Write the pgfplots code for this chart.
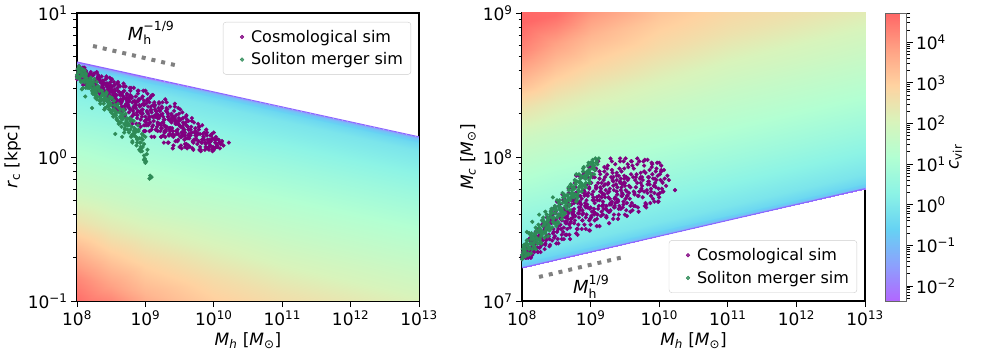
\documentclass[border=0pt]{standalone}
\usepackage{fontspec}
\setmainfont{DejaVu Sans}
\usepackage{pgfplots}
\pgfplotsset{compat=1.18}

\definecolor{mplpurple}{HTML}{800080}
\definecolor{seag}{HTML}{2E8B57}
\newcommand\tkfont{\fontsize{17}{20}\selectfont}
\newcommand\lgfont{\fontsize{16}{19}\selectfont}
% M_h with stacked sub- and superscript
\newcommand\Mh[1]{\textit{M}\raisebox{-4.5pt}{\fontsize{12.5}{12}\selectfont\shortstack[l]{#1\\h}}}

\pgfplotsset{
  colormap={rainbowa}{rgb=(0.7,0.4,1) rgb=(0.55,0.63,0.99) rgb=(0.4,0.824,0.954)
    rgb=(0.55,0.954,0.899) rgb=(0.7,1,0.824) rgb=(0.85,0.954,0.733)
    rgb=(1,0.824,0.63) rgb=(1,0.63,0.517) rgb=(1,0.4,0.4)},
  panel/.style={
    scale only axis, width=342pt, height=288pt,
    xmin=8, xmax=13, xtick={8,...,13},
    xticklabels={10\textsuperscript{8},10\textsuperscript{9},10\textsuperscript{10},
      10\textsuperscript{11},10\textsuperscript{12},10\textsuperscript{13}},
    tick align=outside, xtick pos=bottom, ytick pos=left,
    major tick length=6pt, minor tick length=3.5pt,
    every tick/.style={black, line width=0.9pt},
    axis line style={line width=1.1pt},
    tick label style={font=\tkfont}, label style={font=\tkfont},
    colormap name=rainbowa, point meta min=-2.37, point meta max=4.72,
    xlabel={\textit{M}\textsubscript{\textit{h}} [\textit{M}\textsubscript{⊙}]},
    legend cell align=left,
    legend image code/.code={\path[draw=none, fill=none] (0pt,-3pt) rectangle (20pt,3pt);
      \draw[##1] plot coordinates {(13pt,0pt)};},
    legend style={font=\lgfont, draw=black!20, rounded corners=3pt,
      fill=white, fill opacity=0.8, text opacity=1, row sep=5pt,
      inner xsep=6pt, inner ysep=6pt},
  },
  pts/.style={only marks, mark=*, mark size=1.9pt},
  dots/.style={forget plot, color=gray, line width=4pt, dash pattern=on 4pt off 6pt},
}

\begin{document}
\begin{tikzpicture}
\path[use as bounding box] (0pt,0pt) rectangle (981pt,353pt);

% left panel: core radius
\begin{axis}[panel, at={(77pt,52pt)}, anchor=south west,
  ymin=-1, ymax=1, ytick={-1,0,1},
  yticklabels={10\textsuperscript{−1},10\textsuperscript{0},10\textsuperscript{1}},
  minor ytick={-0.699,-0.523,-0.398,-0.301,-0.222,-0.155,-0.097,-0.046,
    0.301,0.477,0.602,0.699,0.778,0.845,0.903,0.954},
  ylabel={\textit{r}\textsubscript{c} [kpc]},
  legend style={at={(0.977,0.969)}, anchor=north east}]
\addplot[surf, shader=interp, mesh/cols=6, point meta=\thisrow{c}, forget plot] table {
x y c
8 0.66 -2.37
8.5 0.608 -2.37
9 0.556 -2.37
10 0.452 -2.37
11 0.348 -2.37
13 0.14 -2.37
8 0.656 -1.6
8.5 0.604 -1.6
9 0.552 -1.6
10 0.448 -1.6
11 0.344 -1.6
13 0.136 -1.6
8 0.645 -0.9
8.5 0.593 -0.9
9 0.541 -0.9
10 0.437 -0.9
11 0.333 -0.9
13 0.125 -0.9
8 0.62 -0.45
8.5 0.568 -0.45
9 0.516 -0.45
10 0.412 -0.45
11 0.308 -0.45
13 0.10 -0.45
8 0.56 -0.1
8.5 0.508 -0.1
9 0.456 -0.1
10 0.352 -0.1
11 0.248 -0.1
13 0.04 -0.1
8 0.46 0.15
8.5 0.408 0.15
9 0.356 0.15
10 0.252 0.15
11 0.148 0.15
13 -0.06 0.15
8 0.26 0.65
8.5 0.208 0.65
9 0.156 0.65
10 0.052 0.65
11 -0.052 0.65
13 -0.26 0.65
8 0.01 1.25
8.5 -0.042 1.2
9 -0.094 1.2
10 -0.198 1.2
11 -0.302 1.2
13 -0.51 1.2
8 -0.24 1.8
8.5 -0.292 1.75
9 -0.344 1.7
10 -0.448 1.7
11 -0.552 1.65
13 -0.76 1.65
8 -0.44 2.5
8.5 -0.492 2.35
9 -0.544 2.25
10 -0.648 2.15
11 -0.752 2.05
13 -0.96 2.0
8 -0.64 3.4
8.5 -0.692 3.1
9 -0.744 2.9
10 -0.848 2.7
11 -0.952 2.55
13 -1.16 2.45
8 -0.84 4.2
8.5 -0.892 3.8
9 -0.944 3.45
10 -1.048 3.1
11 -1.152 2.9
13 -1.36 2.8
8 -1.04 4.72
8.5 -1.092 4.6
9 -1.144 4.1
10 -1.248 3.5
11 -1.352 3.2
13 -1.56 3.05
8 -1.19 4.72
8.5 -1.242 4.72
9 -1.294 4.5
10 -1.398 3.9
11 -1.502 3.5
13 -1.71 3.35
};
\addplot[forget plot, color={rgb,1:red,0.55;green,0.4;blue,1}, line width=1pt] coordinates {(8,0.66) (13,0.14)};
\addplot[dots] coordinates {(8.234,0.771) (9.49,0.632)};
\addplot[pts, mplpurple] coordinates {
(8.00,0.54) (8.02,0.59) (8.00,0.56) (8.03,0.62) (8.01,0.55)
(8.03,0.63) (8.04,0.58) (8.01,0.61) (8.05,0.55) (8.03,0.62)
(8.05,0.56) (8.07,0.61) (8.04,0.54) (8.08,0.58) (8.06,0.53)
(8.08,0.59) (8.09,0.54) (8.06,0.61) (8.10,0.57) (8.08,0.62)
(8.10,0.62) (8.12,0.56) (8.09,0.50) (8.13,0.60) (8.11,0.53)
(8.13,0.50) (8.14,0.56) (8.11,0.62) (8.15,0.52) (8.13,0.59)
(8.15,0.55) (8.17,0.52) (8.14,0.58) (8.18,0.51) (8.16,0.57)
(8.18,0.55) (8.19,0.58) (8.16,0.52) (8.20,0.59) (8.18,0.53)
(8.20,0.58) (8.22,0.50) (8.19,0.55) (8.23,0.49) (8.21,0.56)
(8.23,0.49) (8.24,0.57) (8.21,0.52) (8.25,0.58) (8.23,0.51)
(8.25,0.52) (8.27,0.45) (8.24,0.57) (8.28,0.49) (8.26,0.54)
(8.28,0.52) (8.29,0.59) (8.26,0.47) (8.30,0.55) (8.28,0.50)
(8.30,0.47) (8.32,0.55) (8.29,0.45) (8.33,0.53) (8.31,0.57)
(8.33,0.54) (8.34,0.46) (8.31,0.56) (8.35,0.48) (8.33,0.44)
(8.35,0.45) (8.37,0.50) (8.34,0.42) (8.38,0.53) (8.36,0.47)
(8.38,0.53) (8.39,0.48) (8.36,0.56) (8.40,0.45) (8.38,0.51)
(8.40,0.39) (8.42,0.54) (8.39,0.44) (8.43,0.50) (8.41,0.40)
(8.43,0.56) (8.44,0.41) (8.41,0.51) (8.45,0.45) (8.43,0.55)
(8.45,0.51) (8.47,0.40) (8.44,0.49) (8.48,0.55) (8.46,0.44)
(8.48,0.41) (8.49,0.52) (8.46,0.43) (8.50,0.37) (8.48,0.48)
(8.50,0.46) (8.52,0.37) (8.49,0.49) (8.53,0.42) (8.51,0.54)
(8.53,0.43) (8.54,0.52) (8.51,0.40) (8.55,0.47) (8.53,0.35)
(8.55,0.50) (8.57,0.38) (8.54,0.45) (8.58,0.34) (8.56,0.43)
(8.58,0.36) (8.59,0.48) (8.56,0.41) (8.60,0.52) (8.58,0.43)
(8.60,0.34) (8.62,0.45) (8.59,0.51) (8.63,0.39) (8.61,0.50)
(8.63,0.49) (8.64,0.38) (8.61,0.32) (8.65,0.44) (8.63,0.33)
(8.65,0.31) (8.67,0.45) (8.64,0.37) (8.68,0.51) (8.66,0.39)
(8.68,0.49) (8.69,0.35) (8.66,0.43) (8.70,0.29) (8.68,0.41)
(8.70,0.33) (8.72,0.41) (8.69,0.28) (8.73,0.39) (8.71,0.36)
(8.73,0.44) (8.74,0.36) (8.71,0.49) (8.75,0.38) (8.73,0.43)
(8.75,0.41) (8.77,0.48) (8.74,0.35) (8.78,0.46) (8.76,0.31)
(8.78,0.33) (8.79,0.26) (8.76,0.39) (8.80,0.28) (8.78,0.43)
(8.80,0.41) (8.82,0.32) (8.79,0.48) (8.83,0.35) (8.81,0.23)
(8.83,0.30) (8.84,0.39) (8.81,0.25) (8.85,0.36) (8.83,0.48)
(8.85,0.38) (8.87,0.23) (8.84,0.35) (8.88,0.29) (8.86,0.42)
(8.88,0.31) (8.89,0.46) (8.86,0.34) (8.90,0.40) (8.88,0.27)
(8.90,0.46) (8.92,0.31) (8.89,0.44) (8.93,0.26) (8.91,0.36)
(8.93,0.21) (8.94,0.36) (8.91,0.23) (8.95,0.41) (8.93,0.31)
(8.95,0.28) (8.97,0.46) (8.94,0.31) (8.98,0.18) (8.96,0.42)
(8.98,0.36) (8.99,0.18) (8.96,0.33) (9.00,0.46) (8.98,0.22)
(9.00,0.18) (9.02,0.32) (8.99,0.25) (9.03,0.39) (9.01,0.22)
(9.03,0.44) (9.04,0.30) (9.01,0.37) (9.05,0.23) (9.03,0.40)
(9.05,0.27) (9.07,0.41) (9.04,0.22) (9.08,0.32) (9.06,0.18)
(9.08,0.33) (9.09,0.19) (9.06,0.38) (9.10,0.28) (9.08,0.42)
(9.10,0.43) (9.12,0.28) (9.09,0.14) (9.13,0.38) (9.11,0.22)
(9.13,0.14) (9.14,0.29) (9.11,0.43) (9.15,0.19) (9.13,0.35)
(9.15,0.28) (9.17,0.21) (9.14,0.36) (9.18,0.18) (9.16,0.32)
(9.18,0.27) (9.19,0.34) (9.16,0.19) (9.20,0.37) (9.18,0.23)
(9.20,0.38) (9.22,0.18) (9.19,0.29) (9.23,0.14) (9.21,0.32)
(9.23,0.14) (9.24,0.34) (9.21,0.23) (9.25,0.38) (9.23,0.20)
(9.25,0.24) (9.27,0.10) (9.24,0.35) (9.28,0.18) (9.26,0.28)
(9.28,0.26) (9.29,0.40) (9.26,0.15) (9.30,0.32) (9.28,0.22)
(9.30,0.18) (9.32,0.33) (9.29,0.14) (9.33,0.28) (9.31,0.38)
(9.33,0.30) (9.34,0.15) (9.31,0.34) (9.35,0.20) (9.33,0.10)
(9.35,0.15) (9.37,0.25) (9.34,0.10) (9.38,0.29) (9.36,0.18)
(9.38,0.30) (9.39,0.20) (9.36,0.35) (9.40,0.16) (9.38,0.27)
(9.40,0.06) (9.42,0.32) (9.39,0.15) (9.43,0.25) (9.41,0.08)
(9.43,0.37) (9.44,0.11) (9.41,0.28) (9.45,0.18) (9.43,0.35)
(9.45,0.29) (9.47,0.11) (9.44,0.25) (9.48,0.34) (9.46,0.18)
(9.48,0.12) (9.49,0.30) (9.46,0.16) (9.50,0.07) (9.48,0.23)
(9.50,0.22) (9.52,0.08) (9.49,0.25) (9.53,0.15) (9.51,0.33)
(9.53,0.17) (9.54,0.31) (9.51,0.14) (9.55,0.24) (9.53,0.06)
(9.55,0.27) (9.57,0.12) (9.54,0.21) (9.58,0.07) (9.56,0.19)
(9.58,0.09) (9.59,0.24) (9.56,0.15) (9.60,0.29) (9.58,0.17)
(9.60,0.09) (9.62,0.21) (9.59,0.28) (9.63,0.15) (9.61,0.26)
(9.63,0.25) (9.64,0.13) (9.61,0.06) (9.65,0.19) (9.63,0.08)
(9.65,0.07) (9.67,0.21) (9.64,0.13) (9.68,0.27) (9.66,0.15)
(9.68,0.25) (9.69,0.11) (9.66,0.19) (9.70,0.05) (9.68,0.17)
(9.70,0.10) (9.72,0.17) (9.69,0.06) (9.73,0.15) (9.71,0.12)
(9.73,0.20) (9.74,0.13) (9.71,0.24) (9.75,0.15) (9.73,0.18)
(9.75,0.17) (9.77,0.23) (9.74,0.12) (9.78,0.21) (9.76,0.09)
(9.78,0.11) (9.79,0.05) (9.76,0.16) (9.80,0.07) (9.78,0.19)
(9.80,0.16) (9.82,0.10) (9.79,0.21) (9.83,0.12) (9.81,0.04)
(9.83,0.10) (9.84,0.16) (9.81,0.05) (9.85,0.14) (9.83,0.22)
(9.85,0.14) (9.87,0.05) (9.84,0.12) (9.88,0.09) (9.86,0.17)
(9.88,0.10) (9.89,0.19) (9.86,0.12) (9.90,0.15) (9.88,0.07)
(9.90,0.17) (9.92,0.10) (9.89,0.16) (9.93,0.07) (9.91,0.12)
(9.93,0.05) (9.94,0.12) (9.91,0.06) (9.95,0.15) (9.93,0.10)
(9.95,0.08) (9.97,0.16) (9.94,0.10) (9.98,0.04) (9.96,0.15)
(9.98,0.13) (9.99,0.05) (9.96,0.11) (10.00,0.17) (9.98,0.06)
(10.00,0.05) (10.02,0.10) (9.99,0.07) (10.03,0.12) (10.01,0.06)
(10.03,0.14) (10.04,0.09) (10.01,0.12) (10.05,0.07) (10.03,0.13)
(10.05,0.08) (10.07,0.12) (10.04,0.07) (10.08,0.10) (10.09,0.06) (10.11,0.10)
(10.10,0.09) (10.12,0.11) (10.14,0.08) (10.22,0.10)
(8.31,0.49) (8.33,0.53) (8.30,0.48) (8.34,0.52) (8.32,0.54)
(8.36,0.47) (8.38,0.50) (8.35,0.46) (8.39,0.51) (8.37,0.48)
(8.41,0.43) (8.43,0.51) (8.40,0.46) (8.44,0.49) (8.42,0.44)
(8.46,0.49) (8.48,0.43) (8.45,0.47) (8.49,0.50) (8.47,0.45)
(8.51,0.45) (8.53,0.41) (8.50,0.47) (8.54,0.43) (8.52,0.49)
(8.56,0.46) (8.58,0.40) (8.55,0.44) (8.59,0.38) (8.57,0.43)
(8.61,0.38) (8.63,0.43) (8.60,0.46) (8.64,0.40) (8.62,0.45)
(8.66,0.35) (8.68,0.42) (8.65,0.38) (8.69,0.46) (8.67,0.40)
(8.71,0.36) (8.73,0.40) (8.70,0.33) (8.74,0.39) (8.72,0.37)
(8.76,0.39) (8.78,0.42) (8.75,0.36) (8.79,0.41) (8.77,0.34)
(8.81,0.38) (8.83,0.34) (8.80,0.42) (8.84,0.35) (8.82,0.29)
(8.86,0.36) (8.88,0.29) (8.85,0.35) (8.89,0.32) (8.87,0.38)
(8.91,0.40) (8.93,0.32) (8.90,0.39) (8.94,0.30) (8.92,0.35)
(8.96,0.30) (8.98,0.39) (8.95,0.31) (8.99,0.25) (8.97,0.37)
(9.01,0.24) (9.03,0.31) (9.00,0.28) (9.04,0.35) (9.02,0.26)
(9.06,0.28) (9.08,0.35) (9.05,0.26) (9.09,0.31) (9.07,0.24)
(9.11,0.36) (9.13,0.28) (9.10,0.21) (9.14,0.33) (9.12,0.25)
(9.16,0.28) (9.18,0.24) (9.15,0.32) (9.19,0.23) (9.17,0.30)
(9.21,0.32) (9.23,0.22) (9.20,0.27) (9.24,0.20) (9.22,0.29)
(9.26,0.24) (9.28,0.17) (9.25,0.30) (9.29,0.21) (9.27,0.26)
(9.31,0.21) (9.33,0.28) (9.30,0.19) (9.34,0.26) (9.32,0.31)
(9.36,0.19) (9.38,0.24) (9.35,0.16) (9.39,0.26) (9.37,0.20)
(9.41,0.14) (9.43,0.27) (9.40,0.18) (9.44,0.23) (9.42,0.15)
(9.46,0.25) (9.48,0.16) (9.45,0.23) (9.49,0.27) (9.47,0.19)
(9.51,0.21) (9.53,0.14) (9.50,0.22) (9.54,0.17) (9.52,0.26)
(9.56,0.23) (9.58,0.15) (9.55,0.20) (9.59,0.13) (9.57,0.19)
(9.61,0.13) (9.63,0.19) (9.60,0.22) (9.64,0.16) (9.62,0.21)
};
\addlegendentry{Cosmological sim}
\addplot[pts, seag] coordinates {
(8.00,0.55) (8.02,0.59) (8.00,0.57) (8.03,0.62) (8.01,0.56)
(8.03,0.63) (8.04,0.59) (8.01,0.61) (8.05,0.56) (8.03,0.62)
(8.05,0.56) (8.07,0.61) (8.04,0.54) (8.08,0.57) (8.06,0.52)
(8.08,0.58) (8.09,0.53) (8.06,0.59) (8.10,0.56) (8.08,0.61)
(8.10,0.60) (8.12,0.54) (8.09,0.48) (8.13,0.58) (8.11,0.52)
(8.13,0.48) (8.14,0.54) (8.11,0.60) (8.15,0.50) (8.13,0.57)
(8.15,0.52) (8.17,0.49) (8.14,0.55) (8.18,0.48) (8.16,0.53)
(8.18,0.51) (8.19,0.54) (8.16,0.48) (8.20,0.55) (8.18,0.50)
(8.20,0.53) (8.22,0.46) (8.19,0.50) (8.23,0.44) (8.21,0.51)
(8.23,0.45) (8.24,0.52) (8.21,0.48) (8.25,0.54) (8.23,0.47)
(8.25,0.46) (8.27,0.41) (8.24,0.50) (8.28,0.44) (8.26,0.48)
(8.28,0.47) (8.29,0.52) (8.26,0.43) (8.30,0.49) (8.28,0.45)
(8.30,0.42) (8.32,0.47) (8.29,0.40) (8.33,0.46) (8.31,0.49)
(8.33,0.46) (8.34,0.41) (8.31,0.48) (8.35,0.42) (8.33,0.39)
(8.35,0.39) (8.37,0.43) (8.34,0.37) (8.38,0.44) (8.36,0.40)
(8.38,0.44) (8.39,0.40) (8.36,0.46) (8.40,0.39) (8.38,0.43)
(8.40,0.33) (8.42,0.43) (8.39,0.37) (8.43,0.40) (8.41,0.34)
(8.43,0.45) (8.44,0.35) (8.41,0.41) (8.45,0.38) (8.43,0.44)
(8.45,0.40) (8.47,0.33) (8.44,0.39) (8.48,0.42) (8.46,0.36)
(8.48,0.33) (8.49,0.41) (8.46,0.35) (8.50,0.31) (8.48,0.38)
(8.50,0.36) (8.52,0.30) (8.49,0.37) (8.53,0.33) (8.51,0.41)
(8.53,0.33) (8.54,0.39) (8.51,0.32) (8.55,0.36) (8.53,0.28)
(8.55,0.36) (8.57,0.29) (8.54,0.33) (8.58,0.26) (8.56,0.32)
(8.58,0.27) (8.59,0.35) (8.56,0.30) (8.60,0.37) (8.58,0.31)
(8.60,0.25) (8.62,0.31) (8.59,0.35) (8.63,0.28) (8.61,0.34)
(8.63,0.33) (8.64,0.27) (8.61,0.23) (8.65,0.30) (8.63,0.24)
(8.65,0.21) (8.67,0.29) (8.64,0.24) (8.68,0.33) (8.66,0.26)
(8.68,0.32) (8.69,0.23) (8.66,0.28) (8.70,0.19) (8.68,0.27)
(8.70,0.20) (8.72,0.25) (8.69,0.17) (8.73,0.24) (8.71,0.22)
(8.73,0.27) (8.74,0.22) (8.71,0.30) (8.75,0.23) (8.73,0.26)
(8.75,0.23) (8.77,0.27) (8.74,0.19) (8.78,0.26) (8.76,0.17)
(8.78,0.19) (8.79,0.14) (8.76,0.22) (8.80,0.15) (8.78,0.25)
(8.80,0.21) (8.82,0.16) (8.79,0.26) (8.83,0.18) (8.81,0.11)
(8.83,0.15) (8.84,0.20) (8.81,0.10) (8.85,0.18) (8.83,0.25)
(8.85,0.17) (8.87,0.08) (8.84,0.15) (8.88,0.12) (8.86,0.19)
(8.88,0.13) (8.89,0.22) (8.86,0.14) (8.90,0.18) (8.88,0.10)
(8.90,0.19) (8.92,0.10) (8.89,0.18) (8.93,0.07) (8.91,0.13)
(8.93,0.04) (8.94,0.13) (8.91,0.05) (8.95,0.16) (8.93,0.10)
(8.95,0.04) (8.97,0.15) (8.94,0.06) (8.98,-0.02) (8.96,0.12)
(8.98,0.09) (8.99,-0.02) (8.96,0.07) (9.00,0.14) (8.98,0.01)
(9.00,-0.04) (9.02,0.02) (8.99,-0.01) (9.03,0.05) (9.01,-0.03)
(9.07,-0.13) (9.06,-0.15) (9.09,-0.14) (8.07,0.47) (8.22,0.34)
(8.56,0.16) (8.66,0.14) (8.12,0.42)
};
\addlegendentry{Soliton merger sim}
\node[font=\fontsize{18}{21}\selectfont] at (axis cs:9.08,0.86) {\Mh{−1/9}};
\end{axis}

% right panel: core mass
\begin{axis}[panel, at={(522pt,52pt)}, anchor=south west, width=343pt,
  ymin=7, ymax=9, ytick={7,8,9},
  yticklabels={10\textsuperscript{7},10\textsuperscript{8},10\textsuperscript{9}},
  minor ytick={7.301,7.477,7.602,7.699,7.778,7.845,7.903,7.954,
    8.301,8.477,8.602,8.699,8.778,8.845,8.903,8.954},
  ylabel={\textit{M}\textsubscript{\textit{c}} [\textit{M}\textsubscript{⊙}]},
  legend style={at={(0.977,0.028)}, anchor=south east},
  colorbar,
  colorbar style={at={(parent axis.north east)}, anchor=north west, xshift=12pt,
    scale only axis, width=21pt, height=288pt,
    ytick={-2,...,4},
    yticklabels={10\textsuperscript{−2},10\textsuperscript{−1},10\textsuperscript{0},
      10\textsuperscript{1},10\textsuperscript{2},10\textsuperscript{3},10\textsuperscript{4}},
    minor ytick={-2.301,-2.222,-2.155,-2.097,-2.046,
      -1.699,-1.523,-1.398,-1.301,-1.222,-1.155,-1.097,-1.046,
      -0.699,-0.523,-0.398,-0.301,-0.222,-0.155,-0.097,-0.046,
      0.301,0.477,0.602,0.699,0.778,0.845,0.903,0.954,
      1.301,1.477,1.602,1.699,1.778,1.845,1.903,1.954,
      2.301,2.477,2.602,2.699,2.778,2.845,2.903,2.954,
      3.301,3.477,3.602,3.699,3.778,3.845,3.903,3.954,
      4.301,4.477,4.602,4.699},
    tick align=outside, ytick pos=right, yticklabel pos=right,
    major tick length=6pt, minor tick length=3.5pt,
    every tick/.style={black, line width=0.9pt},
    axis line style={black!60, line width=0.8pt},
    tick label style={font=\tkfont},
    ylabel={\textit{c}\textsubscript{vir}},
    ylabel style={font=\tkfont, at={(axis description cs:3.33,0.5)}, anchor=center}}]
\addplot[surf, shader=interp, mesh/cols=6, point meta=\thisrow{c}, forget plot] table {
x y c
8 7.23 -2.37
8.5 7.285 -2.37
9 7.34 -2.37
10 7.45 -2.37
11 7.56 -2.37
13 7.78 -2.37
8 7.234 -1.6
8.5 7.289 -1.6
9 7.344 -1.6
10 7.454 -1.6
11 7.564 -1.6
13 7.784 -1.6
8 7.245 -0.9
8.5 7.300 -0.9
9 7.355 -0.9
10 7.465 -0.9
11 7.575 -0.9
13 7.795 -0.9
8 7.27 -0.45
8.5 7.325 -0.45
9 7.38 -0.45
10 7.49 -0.45
11 7.60 -0.45
13 7.82 -0.45
8 7.33 -0.1
8.5 7.385 -0.1
9 7.44 -0.1
10 7.55 -0.1
11 7.66 -0.1
13 7.88 -0.1
8 7.43 0.15
8.5 7.485 0.15
9 7.54 0.15
10 7.65 0.15
11 7.76 0.15
13 7.98 0.15
8 7.63 0.65
8.5 7.685 0.65
9 7.74 0.65
10 7.85 0.65
11 7.96 0.65
13 8.18 0.65
8 7.88 1.25
8.5 7.935 1.2
9 7.99 1.2
10 8.10 1.2
11 8.21 1.2
13 8.43 1.2
8 8.13 1.8
8.5 8.185 1.75
9 8.24 1.7
10 8.35 1.7
11 8.46 1.65
13 8.68 1.65
8 8.33 2.5
8.5 8.385 2.35
9 8.44 2.25
10 8.55 2.15
11 8.66 2.05
13 8.88 2.0
8 8.53 3.4
8.5 8.585 3.1
9 8.64 2.9
10 8.75 2.7
11 8.86 2.55
13 9.08 2.45
8 8.73 4.2
8.5 8.785 3.8
9 8.84 3.45
10 8.95 3.1
11 9.06 2.9
13 9.28 2.8
8 8.93 4.72
8.5 8.985 4.6
9 9.04 4.1
10 9.15 3.5
11 9.26 3.2
13 9.48 3.05
8 9.08 4.72
8.5 9.135 4.72
9 9.19 4.5
10 9.30 3.9
11 9.41 3.5
13 9.63 3.35
};
\addplot[forget plot, color={rgb,1:red,0.55;green,0.4;blue,1}, line width=1pt] coordinates {(8,7.23) (13,7.78)};
\addplot[dots] coordinates {(8.248,7.167) (9.487,7.306)};
\addplot[pts, mplpurple] coordinates {
(8.00,7.29) (8.02,7.33) (8.00,7.31) (8.03,7.35) (8.01,7.30)
(8.03,7.36) (8.04,7.32) (8.01,7.34) (8.05,7.30) (8.03,7.35)
(8.05,7.34) (8.07,7.39) (8.04,7.32) (8.08,7.36) (8.06,7.30)
(8.08,7.36) (8.09,7.31) (8.06,7.38) (8.10,7.34) (8.08,7.39)
(8.10,7.43) (8.12,7.36) (8.09,7.30) (8.13,7.41) (8.11,7.34)
(8.13,7.30) (8.14,7.37) (8.11,7.43) (8.15,7.32) (8.13,7.40)
(8.15,7.39) (8.17,7.36) (8.14,7.43) (8.18,7.34) (8.16,7.41)
(8.18,7.39) (8.19,7.42) (8.16,7.35) (8.20,7.44) (8.18,7.37)
(8.20,7.48) (8.22,7.37) (8.19,7.42) (8.23,7.34) (8.21,7.45)
(8.23,7.34) (8.24,7.45) (8.21,7.40) (8.25,7.48) (8.23,7.37)
(8.25,7.43) (8.27,7.34) (8.24,7.50) (8.28,7.39) (8.26,7.46)
(8.28,7.44) (8.29,7.53) (8.26,7.37) (8.30,7.48) (8.28,7.41)
(8.30,7.42) (8.32,7.52) (8.29,7.39) (8.33,7.49) (8.31,7.55)
(8.33,7.50) (8.34,7.40) (8.31,7.53) (8.35,7.43) (8.33,7.36)
(8.35,7.42) (8.37,7.50) (8.34,7.39) (8.38,7.53) (8.36,7.45)
(8.38,7.54) (8.39,7.46) (8.36,7.58) (8.40,7.43) (8.38,7.52)
(8.40,7.38) (8.42,7.59) (8.39,7.45) (8.43,7.54) (8.41,7.39)
(8.43,7.63) (8.44,7.42) (8.41,7.56) (8.45,7.47) (8.43,7.62)
(8.45,7.60) (8.47,7.44) (8.44,7.57) (8.48,7.65) (8.46,7.50)
(8.48,7.45) (8.49,7.62) (8.46,7.48) (8.50,7.40) (8.48,7.55)
(8.50,7.57) (8.52,7.43) (8.49,7.61) (8.53,7.50) (8.51,7.69)
(8.53,7.52) (8.54,7.66) (8.51,7.48) (8.55,7.59) (8.53,7.40)
(8.55,7.67) (8.57,7.50) (8.54,7.60) (8.58,7.43) (8.56,7.57)
(8.58,7.46) (8.59,7.63) (8.56,7.53) (8.60,7.70) (8.58,7.56)
(8.60,7.48) (8.62,7.63) (8.59,7.74) (8.63,7.55) (8.61,7.71)
(8.63,7.69) (8.64,7.54) (8.61,7.43) (8.65,7.62) (8.63,7.46)
(8.65,7.46) (8.67,7.68) (8.64,7.55) (8.68,7.78) (8.66,7.59)
(8.68,7.75) (8.69,7.53) (8.66,7.66) (8.70,7.43) (8.68,7.62)
(8.70,7.54) (8.72,7.67) (8.69,7.46) (8.73,7.63) (8.71,7.57)
(8.73,7.71) (8.74,7.58) (8.71,7.79) (8.75,7.62) (8.73,7.70)
(8.75,7.70) (8.77,7.82) (8.74,7.61) (8.78,7.79) (8.76,7.54)
(8.78,7.59) (8.79,7.47) (8.76,7.68) (8.80,7.50) (8.78,7.75)
(8.80,7.75) (8.82,7.61) (8.79,7.87) (8.83,7.65) (8.81,7.46)
(8.83,7.58) (8.84,7.73) (8.81,7.50) (8.85,7.68) (8.83,7.87)
(8.85,7.73) (8.87,7.50) (8.84,7.69) (8.88,7.60) (8.86,7.80)
(8.88,7.63) (8.89,7.87) (8.86,7.67) (8.90,7.77) (8.88,7.56)
(8.90,7.89) (8.92,7.66) (8.89,7.86) (8.93,7.58) (8.91,7.73)
(8.93,7.50) (8.94,7.74) (8.91,7.53) (8.95,7.81) (8.93,7.66)
(8.95,7.65) (8.97,7.93) (8.94,7.70) (8.98,7.49) (8.96,7.86)
(8.98,7.78) (8.99,7.49) (8.96,7.73) (9.00,7.93) (8.98,7.56)
(9.00,7.53) (9.02,7.74) (8.99,7.64) (9.03,7.86) (9.01,7.58)
(9.03,7.93) (9.04,7.72) (9.01,7.82) (9.05,7.60) (9.03,7.88)
(9.05,7.70) (9.07,7.91) (9.04,7.62) (9.08,7.78) (9.06,7.56)
(9.08,7.80) (9.09,7.57) (9.06,7.86) (9.10,7.70) (9.08,7.92)
(9.10,7.97) (9.12,7.73) (9.09,7.52) (9.13,7.90) (9.11,7.64)
(9.13,7.52) (9.14,7.76) (9.11,7.97) (9.15,7.59) (9.13,7.85)
(9.15,7.76) (9.17,7.66) (9.14,7.88) (9.18,7.60) (9.16,7.82)
(9.18,7.74) (9.19,7.84) (9.16,7.62) (9.20,7.90) (9.18,7.69)
(9.20,7.93) (9.22,7.64) (9.19,7.80) (9.23,7.58) (9.21,7.86)
(9.23,7.59) (9.24,7.88) (9.21,7.72) (9.25,7.94) (9.23,7.66)
(9.25,7.75) (9.27,7.54) (9.24,7.92) (9.28,7.67) (9.26,7.82)
(9.28,7.78) (9.29,7.99) (9.26,7.62) (9.30,7.86) (9.28,7.71)
(9.30,7.68) (9.32,7.89) (9.29,7.63) (9.33,7.83) (9.31,7.97)
(9.33,7.86) (9.34,7.65) (9.31,7.91) (9.35,7.71) (9.33,7.57)
(9.35,7.66) (9.37,7.81) (9.34,7.60) (9.38,7.87) (9.36,7.72)
(9.38,7.89) (9.39,7.74) (9.36,7.95) (9.40,7.69) (9.38,7.84)
(9.40,7.57) (9.42,7.92) (9.39,7.69) (9.43,7.83) (9.41,7.60)
(9.43,7.99) (9.44,7.64) (9.41,7.87) (9.45,7.73) (9.43,7.97)
(9.45,7.90) (9.47,7.65) (9.44,7.85) (9.48,7.97) (9.46,7.75)
(9.48,7.67) (9.49,7.92) (9.46,7.73) (9.50,7.60) (9.48,7.82)
(9.50,7.82) (9.52,7.63) (9.49,7.87) (9.53,7.73) (9.51,7.99)
(9.53,7.76) (9.54,7.95) (9.51,7.71) (9.55,7.85) (9.53,7.59)
(9.55,7.93) (9.57,7.71) (9.54,7.84) (9.58,7.62) (9.56,7.80)
(9.58,7.66) (9.59,7.88) (9.56,7.75) (9.60,7.97) (9.58,7.79)
(9.60,7.68) (9.62,7.86) (9.59,7.97) (9.63,7.76) (9.61,7.94)
(9.63,7.92) (9.64,7.74) (9.61,7.63) (9.65,7.84) (9.63,7.66)
(9.65,7.66) (9.67,7.88) (9.64,7.75) (9.68,7.99) (9.66,7.79)
(9.68,7.95) (9.69,7.73) (9.66,7.86) (9.70,7.62) (9.68,7.82)
(9.70,7.73) (9.72,7.85) (9.69,7.65) (9.73,7.82) (9.71,7.76)
(9.73,7.89) (9.74,7.77) (9.71,7.97) (9.75,7.80) (9.73,7.86)
(9.75,7.86) (9.77,7.97) (9.74,7.78) (9.78,7.94) (9.76,7.72)
(9.78,7.76) (9.79,7.66) (9.76,7.84) (9.80,7.68) (9.78,7.90)
(9.80,7.89) (9.82,7.77) (9.79,7.98) (9.83,7.81) (9.81,7.65)
(9.83,7.75) (9.84,7.86) (9.81,7.67) (9.85,7.83) (9.83,7.98)
(9.85,7.86) (9.87,7.68) (9.84,7.83) (9.88,7.76) (9.86,7.91)
(9.88,7.78) (9.89,7.96) (9.86,7.81) (9.90,7.88) (9.88,7.73)
(9.90,7.95) (9.92,7.80) (9.89,7.93) (9.93,7.75) (9.91,7.85)
(9.93,7.69) (9.94,7.85) (9.91,7.71) (9.95,7.90) (9.93,7.80)
(9.95,7.79) (9.97,7.96) (9.94,7.82) (9.98,7.69) (9.96,7.92)
(9.98,7.87) (9.99,7.69) (9.96,7.84) (10.00,7.96) (9.98,7.74)
(10.00,7.72) (10.02,7.84) (9.99,7.78) (10.03,7.90) (10.01,7.75)
(10.03,7.94) (10.04,7.83) (10.01,7.88) (10.05,7.76) (10.03,7.91)
(10.05,7.82) (10.07,7.91) (10.04,7.78) (10.08,7.85) (10.06,7.76)
(10.10,7.80) (10.12,7.87) (10.14,7.84) (10.23,7.77)
(8.61,7.51) (8.63,7.58) (8.60,7.64) (8.64,7.54) (8.62,7.62)
(8.66,7.50) (8.68,7.61) (8.65,7.55) (8.69,7.66) (8.67,7.57)
(8.71,7.55) (8.73,7.62) (8.70,7.51) (8.74,7.60) (8.72,7.57)
(8.76,7.64) (8.78,7.70) (8.75,7.60) (8.79,7.69) (8.77,7.56)
(8.81,7.68) (8.83,7.61) (8.80,7.74) (8.84,7.63) (8.82,7.53)
(8.86,7.67) (8.88,7.56) (8.85,7.65) (8.89,7.61) (8.87,7.71)
(8.91,7.76) (8.93,7.65) (8.90,7.75) (8.94,7.60) (8.92,7.68)
(8.96,7.65) (8.98,7.79) (8.95,7.67) (8.99,7.57) (8.97,7.75)
(9.01,7.59) (9.03,7.70) (9.00,7.65) (9.04,7.76) (9.02,7.62)
(9.06,7.68) (9.08,7.79) (9.05,7.64) (9.09,7.72) (9.07,7.61)
(9.11,7.82) (9.13,7.70) (9.10,7.60) (9.14,7.79) (9.12,7.66)
(9.16,7.72) (9.18,7.67) (9.15,7.78) (9.19,7.64) (9.17,7.75)
(9.21,7.81) (9.23,7.66) (9.20,7.74) (9.24,7.63) (9.22,7.77)
(9.26,7.72) (9.28,7.62) (9.25,7.81) (9.29,7.68) (9.27,7.76)
(9.31,7.69) (9.33,7.80) (9.30,7.67) (9.34,7.77) (9.32,7.84)
(9.36,7.68) (9.38,7.76) (9.35,7.65) (9.39,7.79) (9.37,7.71)
(9.41,7.64) (9.43,7.82) (9.40,7.70) (9.44,7.77) (9.42,7.66)
(9.46,7.81) (9.48,7.69) (9.45,7.79) (9.49,7.85) (9.47,7.74)
(9.51,7.77) (9.53,7.68) (9.50,7.80) (9.54,7.73) (9.52,7.86)
};
\addlegendentry{Cosmological sim}
\addplot[pts, seag] coordinates {
(8.00,7.29) (8.02,7.34) (8.00,7.32) (8.03,7.37) (8.01,7.30)
(8.03,7.39) (8.04,7.34) (8.01,7.36) (8.05,7.31) (8.03,7.38)
(8.05,7.36) (8.07,7.42) (8.04,7.34) (8.08,7.38) (8.06,7.32)
(8.08,7.39) (8.09,7.32) (8.06,7.40) (8.10,7.36) (8.08,7.42)
(8.10,7.47) (8.12,7.40) (8.09,7.33) (8.13,7.45) (8.11,7.37)
(8.13,7.33) (8.14,7.40) (8.11,7.47) (8.15,7.36) (8.13,7.43)
(8.15,7.43) (8.17,7.40) (8.14,7.47) (8.18,7.38) (8.16,7.45)
(8.18,7.43) (8.19,7.46) (8.16,7.39) (8.20,7.47) (8.18,7.41)
(8.20,7.51) (8.22,7.42) (8.19,7.47) (8.23,7.40) (8.21,7.49)
(8.23,7.40) (8.24,7.49) (8.21,7.44) (8.25,7.51) (8.23,7.43)
(8.25,7.48) (8.27,7.41) (8.24,7.53) (8.28,7.45) (8.26,7.50)
(8.28,7.49) (8.29,7.56) (8.26,7.43) (8.30,7.52) (8.28,7.47)
(8.30,7.48) (8.32,7.55) (8.29,7.46) (8.33,7.53) (8.31,7.58)
(8.33,7.54) (8.34,7.47) (8.31,7.56) (8.35,7.49) (8.33,7.44)
(8.35,7.50) (8.37,7.55) (8.34,7.48) (8.38,7.57) (8.36,7.51)
(8.38,7.58) (8.39,7.52) (8.36,7.60) (8.40,7.50) (8.38,7.56)
(8.40,7.49) (8.42,7.62) (8.39,7.53) (8.43,7.58) (8.41,7.50)
(8.43,7.64) (8.44,7.51) (8.41,7.60) (8.45,7.55) (8.43,7.63)
(8.45,7.64) (8.47,7.54) (8.44,7.61) (8.48,7.66) (8.46,7.58)
(8.48,7.54) (8.49,7.64) (8.46,7.57) (8.50,7.52) (8.48,7.61)
(8.50,7.63) (8.52,7.55) (8.49,7.65) (8.53,7.59) (8.51,7.70)
(8.53,7.60) (8.54,7.68) (8.51,7.58) (8.55,7.64) (8.53,7.54)
(8.55,7.70) (8.57,7.61) (8.54,7.66) (8.58,7.57) (8.56,7.65)
(8.58,7.59) (8.59,7.68) (8.56,7.63) (8.60,7.72) (8.58,7.64)
(8.60,7.62) (8.62,7.70) (8.59,7.75) (8.63,7.66) (8.61,7.74)
(8.63,7.73) (8.64,7.65) (8.61,7.60) (8.65,7.69) (8.63,7.61)
(8.65,7.64) (8.67,7.74) (8.64,7.68) (8.68,7.79) (8.66,7.70)
(8.68,7.77) (8.69,7.67) (8.66,7.73) (8.70,7.63) (8.68,7.71)
(8.70,7.70) (8.72,7.75) (8.69,7.66) (8.73,7.74) (8.71,7.72)
(8.73,7.77) (8.74,7.72) (8.71,7.81) (8.75,7.73) (8.73,7.79)
(8.75,7.79) (8.77,7.84) (8.74,7.75) (8.78,7.83) (8.76,7.72)
(8.78,7.74) (8.79,7.69) (8.76,7.78) (8.80,7.70) (8.78,7.81)
(8.80,7.83) (8.82,7.77) (8.79,7.88) (8.83,7.79) (8.81,7.72)
(8.83,7.76) (8.84,7.82) (8.81,7.74) (8.85,7.80) (8.83,7.88)
(8.85,7.85) (8.87,7.76) (8.84,7.83) (8.88,7.80) (8.86,7.87)
(8.88,7.81) (8.89,7.90) (8.86,7.82) (8.90,7.86) (8.88,7.78)
(8.90,7.93) (8.92,7.85) (8.89,7.92) (8.93,7.82) (8.91,7.87)
(8.93,7.79) (8.94,7.87) (8.91,7.80) (8.95,7.90) (8.93,7.85)
(8.95,7.87) (8.97,7.96) (8.94,7.89) (8.98,7.82) (8.96,7.94)
(8.98,7.91) (8.99,7.82) (8.96,7.88) (9.00,7.96) (8.98,7.84)
(9.00,7.86) (9.02,7.92) (8.99,7.89) (9.03,7.96) (9.01,7.88)
(9.03,7.98) (9.04,7.92) (9.01,7.95) (9.05,7.88) (9.03,7.96)
(9.05,7.94) (9.07,7.99) (9.04,7.93) (9.08,7.96) (9.06,7.91)
(9.10,7.95) (9.12,7.99) (9.09,7.97)
(8.34,7.62) (8.07,7.48) (8.15,7.55) (8.20,7.36) (8.28,7.40) (8.38,7.45)
(8.25,7.60) (8.45,7.72)
};
\addlegendentry{Soliton merger sim}
\node[font=\fontsize{18}{21}\selectfont] at (axis cs:9.006,7.097) {\Mh{1/9}};
\end{axis}
\end{tikzpicture}
\end{document}
